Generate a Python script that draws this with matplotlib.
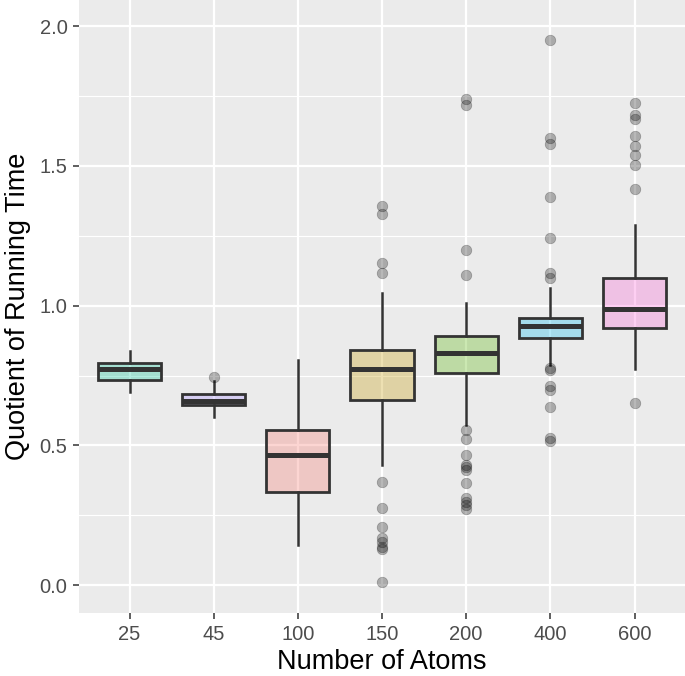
import matplotlib
matplotlib.use('Agg')
import matplotlib.pyplot as plt
from matplotlib.colors import to_rgba

plt.rcParams['font.family'] = ['Liberation Sans', 'DejaVu Sans']

# Number of atoms (categories)
atoms = ['25', '45', '100', '150', '200', '400', '600']

# box statistics
q1 = [0.735, 0.643, 0.334, 0.663, 0.759, 0.886, 0.920]
med = [0.774, 0.660, 0.467, 0.773, 0.830, 0.926, 0.988]
q3 = [0.796, 0.685, 0.556, 0.840, 0.892, 0.956, 1.099]
whislo = [0.692, 0.600, 0.142, 0.428, 0.573, 0.789, 0.773]
whishi = [0.839, 0.731, 0.804, 1.046, 1.010, 1.063, 1.287]

outliers = [
    [],
    [0.744],
    [],
    [1.355, 1.327, 1.153, 1.117, 0.368, 0.276, 0.209, 0.167, 0.155, 0.137,
     0.128, 0.010],
    [1.738, 1.718, 1.198, 1.109, 0.556, 0.522, 0.464, 0.430, 0.422, 0.412,
     0.364, 0.311, 0.299, 0.287, 0.272],
    [1.950, 1.601, 1.577, 1.390, 1.243, 1.117, 1.099, 0.777, 0.768, 0.711,
     0.697, 0.639, 0.527, 0.516],
    [1.726, 1.681, 1.669, 1.607, 1.573, 1.538, 1.505, 1.416, 0.651],
]

# ggplot hue colours (assigned alphabetically in the original)
fills = ['#00C094', '#A58AFF', '#F8766D', '#C49A00', '#53B400', '#00B6EB', '#FB61D7']

fig = plt.figure(figsize=(6.85, 6.76), dpi=100)
ax = fig.add_axes([79 / 685, 63 / 676, 606 / 685, 613 / 676])
ax.set_facecolor('#EBEBEB')
for s in ax.spines.values():
    s.set_visible(False)

stats = []
for i in range(len(atoms)):
    stats.append(dict(label=atoms[i], q1=q1[i], med=med[i], q3=q3[i],
                      whislo=whislo[i], whishi=whishi[i], fliers=outliers[i]))

bp = ax.bxp(stats, positions=range(len(atoms)), widths=0.75,
            patch_artist=True, showcaps=False,
            boxprops=dict(edgecolor='#333333', linewidth=2.0),
            medianprops=dict(color='#333333', linewidth=3.6, solid_capstyle='butt'),
            whiskerprops=dict(color='#333333', linewidth=1.8),
            flierprops=dict(marker='o', markerfacecolor='black',
                            markeredgecolor='black', markeredgewidth=0.5,
                            markersize=7.6, alpha=0.28),
            zorder=3)
for patch, c in zip(bp['boxes'], fills):
    patch.set_facecolor(to_rgba(c, 0.3))

ax.set_xlim(-0.6, 6.6)
ax.set_ylim(-0.100, 2.094)
ax.set_yticks([0.0, 0.5, 1.0, 1.5, 2.0])
ax.set_yticklabels(['0.0', '0.5', '1.0', '1.5', '2.0'])
ax.set_yticks([0.25, 0.75, 1.25, 1.75], minor=True)
ax.set_xticks(range(len(atoms)))
ax.set_xticklabels(atoms)

ax.set_axisbelow(True)
ax.grid(which='major', color='white', linewidth=1.6)
ax.grid(which='minor', axis='y', color='white', linewidth=0.8)
ax.tick_params(which='major', length=4.3, width=1.1, color='#333333',
               labelcolor='#4D4D4D', labelsize=14.5, pad=4)
ax.tick_params(which='minor', length=0)

ax.set_xlabel('Number of Atoms', fontsize=19.5, color='black', labelpad=4)
ax.set_ylabel('Quotient of Running Time', fontsize=19.5, color='black', labelpad=6)

fig.savefig('out.png', dpi=100)
